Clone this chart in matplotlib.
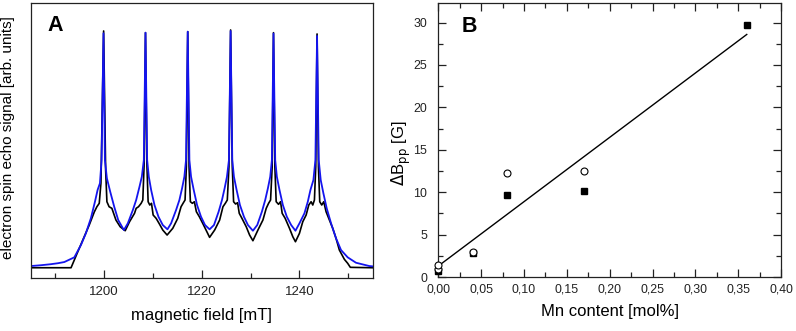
import numpy as np
import matplotlib
matplotlib.use("Agg")
import matplotlib.pyplot as plt
from matplotlib.ticker import MultipleLocator, FuncFormatter

plt.rcParams['font.family'] = ['Liberation Sans', 'DejaVu Sans']

# --- panel A: traced spectra (field in mT, signal in arb. units) ---
black_x = [1185.0, 1193.2, 1194.56, 1195.9, 1196.93, 1197.96, 1198.5, 1198.98, 1199.33, 1199.88,
           1200.29, 1200.55, 1201.0, 1201.57, 1202.4, 1203.27, 1204.3,
           1205.19, 1206.21, 1206.55, 1207.03, 1207.57, 1207.91, 1208.19, 1208.46,
           1208.74, 1209.0, 1209.34, 1209.69, 1210.03, 1210.64, 1211.32, 1212.0, 1212.89,
           1214.05, 1215.07, 1215.75, 1216.23, 1216.57, 1216.84, 1217.12,
           1217.39, 1217.66, 1218.07, 1218.48, 1218.89, 1219.5, 1220.19, 1220.87, 1221.6,
           1222.64, 1223.66, 1224.34, 1224.82, 1225.23, 1225.57, 1225.91,
           1226.25, 1226.52, 1226.93, 1227.34, 1227.68, 1228.23, 1229.11, 1229.8, 1230.48,
           1231.51, 1232.53, 1233.21, 1233.69, 1234.1, 1234.43, 1234.7,
           1234.98, 1235.25, 1235.73, 1236.14, 1236.48, 1237.09, 1237.98, 1238.66, 1239.2,
           1240.02, 1240.7, 1241.39, 1241.93, 1242.41, 1242.75, 1243.09, 1243.36, 1243.63,
           1243.91, 1244.18, 1244.59, 1245.0, 1245.48, 1246.16, 1246.84, 1247.52, 1248.2,
           1249.23, 1249.91, 1250.45, 1255.0]
black_y = [10.3, 10.3, 26.0, 41.3, 53.0, 66.0, 71.3, 74.7, 95.0, 247.0,
           108.0, 76.3, 71.3, 69.7, 58.0, 51.3, 47.3,
           56.3, 64.7, 69.7, 71.3, 74.7, 78.0, 114.7, 245.3,
           114.7, 76.3, 73.0, 74.7, 63.0, 59.7, 54.0, 48.0, 43.0,
           49.7, 59.7, 71.3, 75.3, 78.0, 111.3, 246.3,
           111.3, 76.3, 74.7, 76.3, 66.3, 61.3, 54.7, 48.0, 40.7,
           48.0, 58.0, 71.3, 74.7, 78.0, 111.3, 248.0,
           111.3, 76.3, 74.0, 75.3, 64.7, 59.7, 51.3, 43.0, 37.3,
           48.0, 58.0, 69.7, 74.7, 78.0, 111.3, 245.3,
           111.3, 76.3, 73.7, 76.3, 64.7, 59.7, 49.7, 41.3, 36.3,
           44.7, 56.3, 63.0, 73.0, 76.3, 73.0, 78.0, 111.3, 244.0,
           111.3, 76.3, 73.0, 76.3, 66.3, 58.0, 49.7, 39.7, 28.0,
           18.7, 14.7, 10.7, 10.3]

blue_x = [1185.0, 1187.0, 1189.0, 1190.5, 1191.82, 1193.87, 1195.23, 1196.26, 1197.28, 1198.1,
          1198.64, 1199.12, 1199.46, 1199.85, 1200.14, 1200.55, 1201.23, 1202.05, 1202.87, 1204.03,
          1204.84, 1205.87, 1206.55, 1207.23, 1207.71, 1208.12, 1208.46, 1208.8, 1209.14,
          1209.62, 1210.3, 1211.12, 1212.0, 1212.96,
          1213.71, 1214.73, 1215.41, 1215.96, 1216.43, 1216.77, 1217.12, 1217.46, 1217.8,
          1218.35, 1219.03, 1219.84, 1220.66, 1221.6,
          1222.5, 1223.45, 1224.14, 1224.68, 1225.16, 1225.57, 1225.91, 1226.25, 1226.59,
          1227.14, 1227.82, 1228.64, 1229.46, 1230.48,
          1231.37, 1232.32, 1233.0, 1233.55, 1234.03, 1234.37, 1234.7, 1235.05, 1235.39,
          1235.93, 1236.62, 1237.43, 1238.32, 1239.2,
          1240.02, 1241.04, 1241.73, 1242.27, 1242.88, 1243.29, 1243.63, 1243.97, 1244.38,
          1244.93, 1245.61, 1246.5, 1247.52, 1248.54, 1249.91, 1251.61, 1254.34, 1255.0]
blue_y = [12.0, 12.8, 13.8, 14.8, 16.0, 20.7, 33.0, 45.0, 60.0, 76.3,
          88.0, 94.7, 118.0, 244.7, 118.0, 99.7, 86.3, 71.3, 58.0, 48.0,
          54.7, 68.0, 78.0, 91.3, 101.3, 118.0, 245.3, 118.0, 101.3,
          88.0, 73.0, 61.3, 53.0, 48.7,
          54.7, 68.0, 78.0, 89.7, 101.3, 118.0, 246.3, 118.0, 101.3,
          88.0, 73.0, 61.3, 53.0, 48.7,
          53.0, 66.3, 78.0, 89.7, 101.3, 118.0, 247.0, 118.0, 101.3,
          88.0, 73.0, 61.3, 53.0, 47.3,
          53.0, 66.3, 78.0, 89.7, 101.3, 118.0, 244.5, 118.0, 101.3,
          88.0, 73.0, 61.3, 53.0, 47.3,
          54.7, 64.7, 76.3, 88.0, 98.0, 118.0, 242.0, 118.0, 98.0,
          84.7, 69.7, 54.7, 39.7, 28.0, 20.7, 15.3, 12.0, 11.7]

# --- panel B: linewidth vs Mn content ---
sq_mn = [0.0, 0.04, 0.08, 0.17, 0.36]
sq_dbpp = [0.7, 2.8, 9.7, 10.1, 29.7]
circ_mn = [0.0, 0.0, 0.04, 0.08, 0.17]
circ_dbpp = [1.0, 1.4, 2.95, 12.3, 12.55]
fit_mn = [0.0, 0.36]
fit_dbpp = [1.3, 28.6]

fig = plt.figure(figsize=(7.96, 3.31), dpi=100)
axA = fig.add_axes([0.039, 0.160, 0.429, 0.831])
axB = fig.add_axes([0.5506, 0.163, 0.4306, 0.829])

for ax in (axA, axB):
    for s in ax.spines.values():
        s.set_linewidth(0.9)
        s.set_color('#222222')

# panel A
axA.plot(black_x, black_y, color='black', lw=1.2)
axA.plot(blue_x, blue_y, color='#1414ee', lw=1.3)
axA.set_xlim(1185, 1255)
axA.set_ylim(0, 275)
axA.set_yticks([])
axA.xaxis.set_major_locator(MultipleLocator(20))
axA.xaxis.set_minor_locator(MultipleLocator(10))
axA.tick_params(axis='x', which='both', direction='in', labelsize=9.5, pad=6, colors='#222222')
axA.tick_params(axis='x', which='major', length=6, width=0.9)
axA.tick_params(axis='x', which='minor', length=3.5, width=0.9)
axA.set_xlabel('magnetic field [mT]', fontsize=12, labelpad=7)
axA.set_ylabel('electron spin echo signal [arb. units]', fontsize=11)
axA.yaxis.set_label_coords(-0.046, 0.51)
axA.text(0.047, 0.955, 'A', transform=axA.transAxes, fontsize=15.5, fontweight='bold',
         va='top', ha='left')

# panel B
axB.plot(fit_mn, fit_dbpp, color='black', lw=1.0)
axB.plot(sq_mn, sq_dbpp, 's', color='black', ms=4.2, clip_on=False, zorder=3)
axB.plot(circ_mn, circ_dbpp, 'o', mfc='white', mec='black', mew=0.8, ms=5, clip_on=False, zorder=3)
axB.set_xlim(0, 0.40)
axB.set_ylim(0, 32.35)
axB.xaxis.set_major_locator(MultipleLocator(0.05))
axB.xaxis.set_minor_locator(MultipleLocator(0.025))
axB.yaxis.set_major_locator(MultipleLocator(5))
axB.yaxis.set_minor_locator(MultipleLocator(2.5))
axB.xaxis.set_major_formatter(FuncFormatter(lambda v, p: f"{v:.2f}".replace('.', ',')))
axB.tick_params(which='both', direction='in', top=True, right=True, labelsize=8.9, colors='#222222')
axB.tick_params(which='major', length=6, width=0.9)
axB.tick_params(which='minor', length=3.5, width=0.9)
axB.tick_params(axis='x', pad=5)
axB.tick_params(axis='y', pad=8)
axB.set_xlabel('Mn content [mol%]', fontsize=12, labelpad=6)
axB.set_ylabel(r'$\Delta$B$_{\mathrm{pp}}$ [G]', fontsize=12)
axB.yaxis.set_label_coords(-0.075, 0.45)
axB.text(0.068, 0.95, 'B', transform=axB.transAxes, fontsize=15.5, fontweight='bold',
         va='top', ha='left')

fig.savefig('out.png', dpi=100)
